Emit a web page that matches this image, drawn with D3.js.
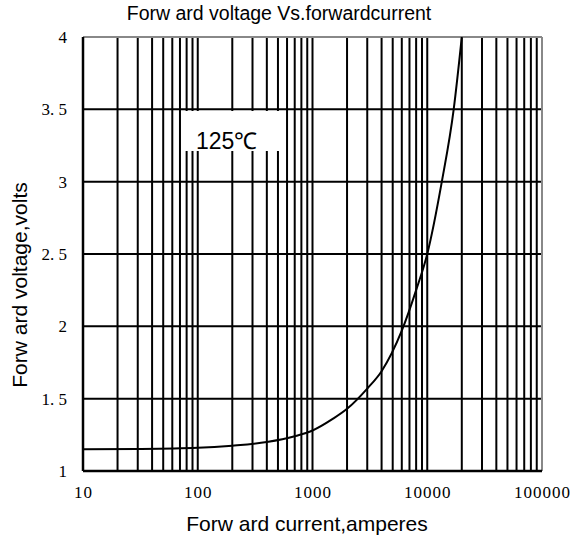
<!DOCTYPE html>
<html>
<head>
<meta charset="utf-8">
<script src="https://cdn.jsdelivr.net/npm/d3@7"></script>
<style>
  body { margin: 0; background: #fff; }
  svg { display: block; }
</style>
</head>
<body>
<svg id="chart" width="577" height="543"></svg>
<script>
// values
const current = [10, 30, 100, 200, 400, 700, 1000, 1500, 2000, 3000, 4000, 6000, 8000, 10000, 13400, 17000, 20000];
const voltage = [1.15, 1.152, 1.16, 1.175, 1.20, 1.24, 1.28, 1.36, 1.43, 1.57, 1.69, 1.97, 2.25, 2.5, 3.0, 3.5, 4.0];
const xTicks = [10, 100, 1000, 10000, 100000];
const yTicks = [1, 1.5, 2, 2.5, 3, 3.5, 4];
const yTickLabels = ['1', '1. 5', '2', '2. 5', '3', '3. 5', '4'];

const svg = d3.select('#chart');
const m = {left: 83, right: 542, top: 37, bottom: 471};

const x = d3.scaleLog().domain([10, 100000]).range([m.left, m.right]);
const y = d3.scaleLinear().domain([1, 4]).range([m.bottom, m.top]);

// minor grid: 1..9 in every decade
const gridX = [];
for (let d = 10; d < 100000; d *= 10)
  for (let k = 1; k < 10; k++) gridX.push(d * k);
gridX.push(100000);

svg.append('g').selectAll('line').data(gridX).enter().append('line')
  .attr('x1', d => x(d)).attr('x2', d => x(d))
  .attr('y1', m.top).attr('y2', m.bottom)
  .attr('stroke', '#000').attr('stroke-width', 2);

svg.append('g').selectAll('line').data(yTicks).enter().append('line')
  .attr('x1', m.left).attr('x2', m.right)
  .attr('y1', d => y(d)).attr('y2', d => y(d))
  .attr('stroke', '#000').attr('stroke-width', 2);

// frame: grey top/right, black left/bottom
svg.append('line').attr('x1', m.left).attr('x2', m.right).attr('y1', m.top).attr('y2', m.top)
  .attr('stroke', '#888').attr('stroke-width', 2);
svg.append('line').attr('x1', m.right).attr('x2', m.right).attr('y1', m.top).attr('y2', m.bottom)
  .attr('stroke', '#888').attr('stroke-width', 2);
svg.append('line').attr('x1', m.left).attr('x2', m.left).attr('y1', m.top).attr('y2', m.bottom)
  .attr('stroke', '#000').attr('stroke-width', 2.5);
svg.append('line').attr('x1', m.left).attr('x2', m.right).attr('y1', m.bottom).attr('y2', m.bottom)
  .attr('stroke', '#000').attr('stroke-width', 2.5);

// curve
const line = d3.line().x((d, i) => x(current[i])).y(d => y(d)).curve(d3.curveMonotoneX);
svg.append('path').datum(voltage).attr('d', line)
  .attr('fill', 'none').attr('stroke', '#000').attr('stroke-width', 2);

// temperature label with white box
svg.append('rect').attr('x', 183).attr('y', 111).attr('width', 100).attr('height', 40).attr('fill', '#fff');
svg.append('text').attr('x', 196).attr('y', 149).text('125℃')
  .style('font-family', 'Liberation Sans, Arial, sans-serif').style('font-size', '23px');

// tick labels
const axisX = d3.axisBottom(x).tickValues(xTicks).tickFormat(d3.format('d')).tickSize(0).tickPadding(15);
svg.append('g').attr('transform', 'translate(0,' + m.bottom + ')').call(axisX)
  .call(g => g.select('.domain').remove())
  .selectAll('text').style('font-family', 'Liberation Serif, serif').style('font-size', '17px')
  .style('letter-spacing', '1px').attr('fill', '#000');

const axisY = d3.axisLeft(y).tickValues(yTicks).tickFormat((d, i) => yTickLabels[i]).tickSize(0).tickPadding(16);
svg.append('g').attr('transform', 'translate(' + m.left + ',0)').call(axisY)
  .call(g => g.select('.domain').remove())
  .selectAll('text').style('font-family', 'Liberation Serif, serif').style('font-size', '17px')
  .attr('fill', '#000');

// titles
svg.append('text').attr('x', 279).attr('y', 20).attr('text-anchor', 'middle')
  .text('Forw ard voltage Vs.forwardcurrent')
  .style('font-family', 'Liberation Sans, Arial, sans-serif').style('font-size', '19.5px');
svg.append('text').attr('x', 307).attr('y', 531).attr('text-anchor', 'middle')
  .text('Forw ard current,amperes')
  .style('font-family', 'Liberation Sans, Arial, sans-serif').style('font-size', '21px');
svg.append('text').attr('transform', 'translate(27,285) rotate(-90)').attr('text-anchor', 'middle')
  .text('Forw ard voltage,volts')
  .style('font-family', 'Liberation Sans, Arial, sans-serif').style('font-size', '21px');
</script>
</body>
</html>
